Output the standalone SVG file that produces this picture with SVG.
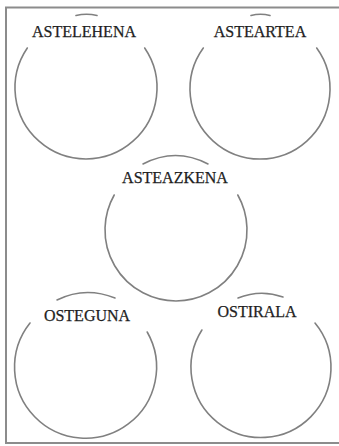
<svg xmlns="http://www.w3.org/2000/svg" width="339" height="446" viewBox="0 0 339 446">
<style>
.arc{fill:none;stroke:#808080;stroke-width:1.6;stroke-linecap:round}
.frame{fill:none;stroke:#8c8c8c;stroke-width:2}
.lbl{font-family:"Liberation Serif","Times New Roman",serif;font-size:16px;fill:#1e1e1e;text-anchor:middle;stroke:#1e1e1e;stroke-width:0.25}
</style>
<rect width="339" height="446" fill="#ffffff"/>
<path class="frame" d="M340,7.5 H6 V443 H340"/>
<g id="astelehena">
<path class="arc" d="M27.3,48 A71,71 0 1 0 144.7,48"/>
<path class="arc" d="M76,15.5 Q86.5,13 97,15.5"/>
<text class="lbl" x="84" y="37">ASTELEHENA</text>
</g>
<g id="asteartea">
<path class="arc" d="M251,15.5 Q260.5,13 270,15.5"/>
<path class="arc" d="M203.3,48 A70,70 0 1 0 316.7,48"/>
<text class="lbl" x="260" y="37">ASTEARTEA</text>
</g>
<g id="asteazkena">
<path class="arc" d="M114.2,195 A71,71 0 1 0 237.8,195"/>
<path class="arc" d="M143,164 Q175.5,147 208,164"/>
<text class="lbl" x="175" y="183">ASTEAZKENA</text>
</g>
<g id="osteguna">
<path class="arc" d="M30,323 A71,71 0 1 0 147.2,332"/>
<path class="arc" d="M57,300 Q85,286 115,298"/>
<text class="lbl" x="87" y="321">OSTEGUNA</text>
</g>
<g id="ostirala">
<path class="arc" d="M201.9,330 A70,70 0 1 0 315,323"/>
<path class="arc" d="M238,298 Q260.5,289 283,297"/>
<text class="lbl" x="257" y="317">OSTIRALA</text>
</g>
</svg>
